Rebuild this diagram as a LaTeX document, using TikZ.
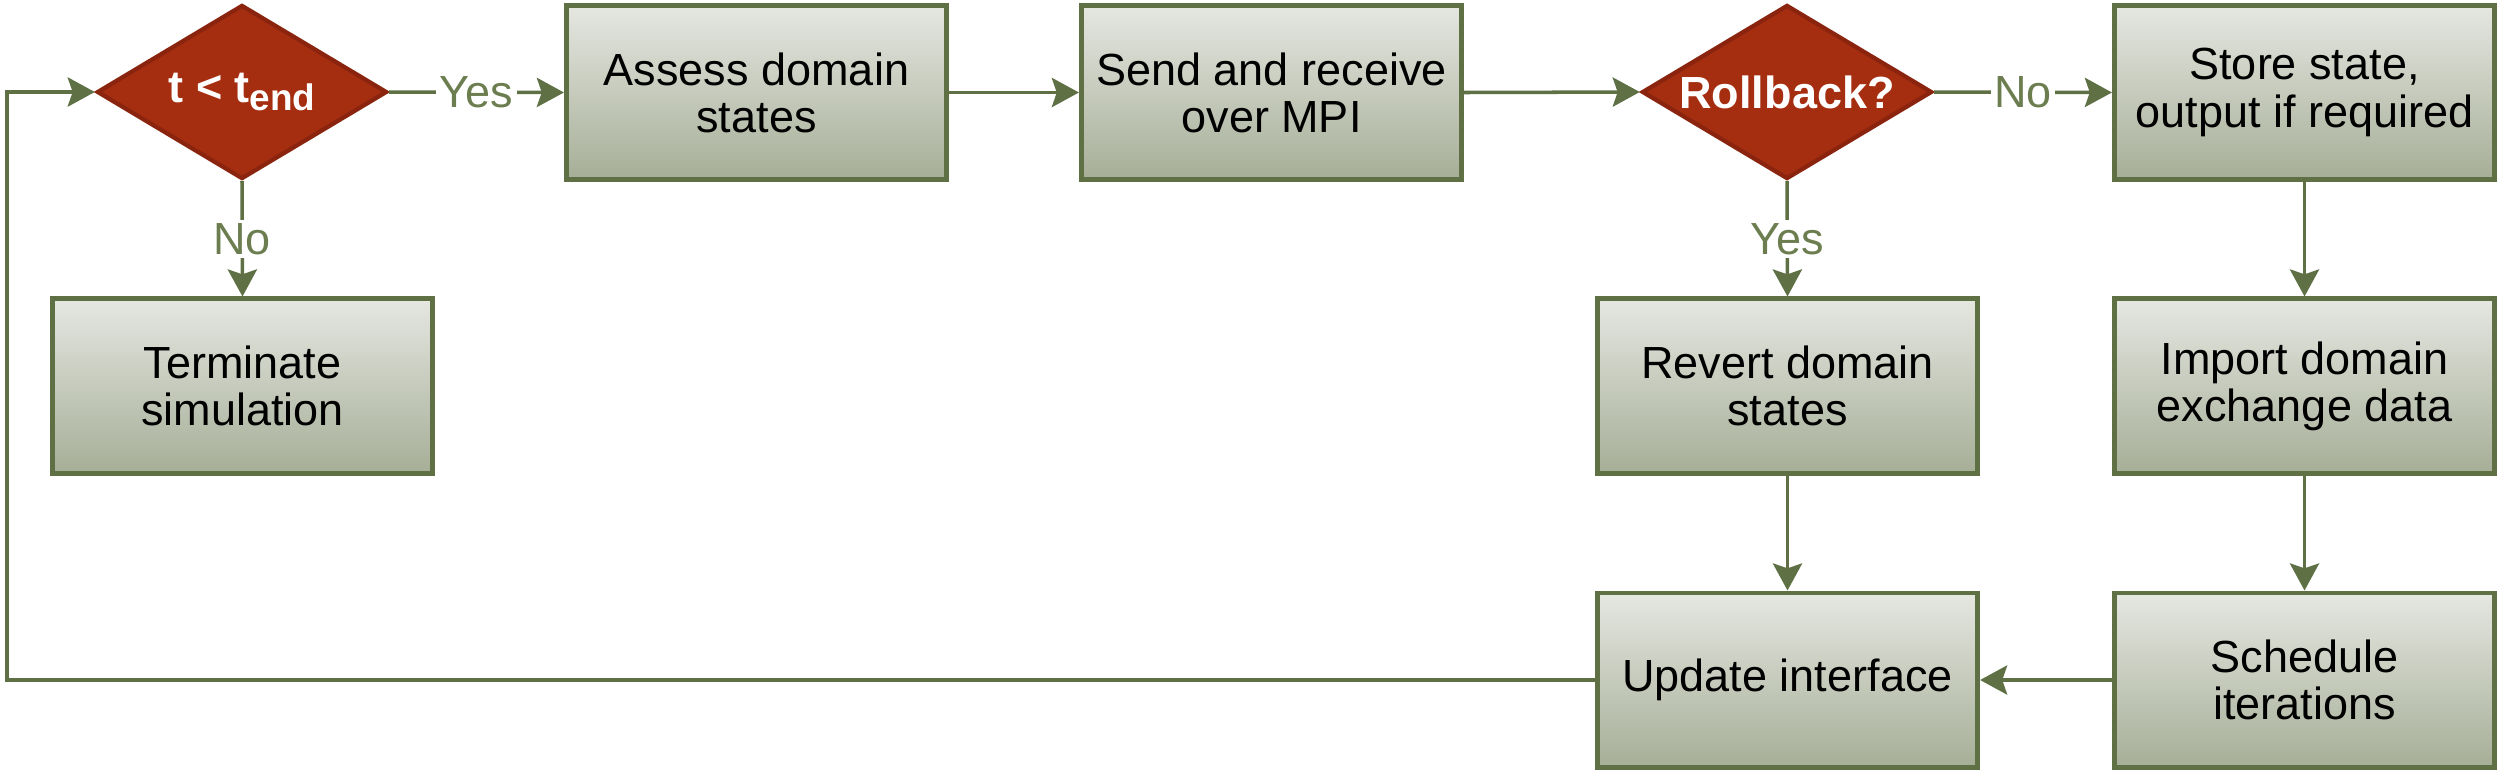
\documentclass[tikz,border=0pt]{standalone}
\usepackage{fontspec}
\setmainfont{Liberation Sans}
\usetikzlibrary{shapes.geometric,arrows.meta}
\definecolor{boxtop}{RGB}{229,231,225}
\definecolor{boxbot}{RGB}{166,174,151}
\definecolor{edgegreen}{RGB}{94,112,68}
\definecolor{labgreen}{RGB}{108,126,80}
\definecolor{decfill}{RGB}{166,46,16}
\definecolor{decedge}{RGB}{138,36,14}
\tikzset{
  stepbox/.style={draw=edgegreen, line width=1.4pt, top color=boxtop, bottom color=boxbot,
    minimum width=3.80cm, minimum height=1.74cm, inner sep=0pt, align=center,
    font=\fontsize{12.8}{13.4}\selectfont, text=black},
  decision/.style={diamond, draw=decedge, line width=1.2pt, fill=decfill,
    minimum width=2.90cm, minimum height=1.74cm, inner sep=0pt},
  dectext/.style={text=white, font=\fontsize{12.8}{15}\selectfont\bfseries, inner sep=0pt},
  conn/.style={draw=edgegreen, line width=1pt,
    -{Stealth[length=7.7pt, width=8.3pt, inset=1.4pt]}},
  lab/.style={fill=white, inner sep=1pt, text=labgreen, font=\fontsize{12.8}{15}\selectfont}
}
\begin{document}
\begin{tikzpicture}[x=0.01cm, y=-0.01cm]
\useasboundingbox (0,0) rectangle (2500,772);
\node[decision, label={[dectext]center:t < t\raisebox{-0.35ex}{\fontsize{10.5}{12}\selectfont end}}] (d1) at (242,92) {};
\node[stepbox] (assess) at (756.5,92.5) {Assess domain\\states};
\node[stepbox] (send) at (1271.5,92.5) {Send and receive\\over MPI};
\node[decision, label={[dectext]center:Rollback?}] (rb) at (1787,92) {};
\node[stepbox] (store) at (2304.5,92.5) {Store state,\\output if required};
\node[stepbox] (term) at (242.5,386) {Terminate\\simulation};
\node[stepbox] (revert) at (1787.5,386) {Revert domain\\states};
\node[stepbox] (import) at (2304.5,386) {Import domain\\exchange data};
\node[stepbox] (update) at (1787.5,680) {Update interface};
\node[stepbox] (sched) at (2304.5,680) {Schedule\\iterations};
\coordinate (loopcorner) at (7,680);
\coordinate (looptop) at (7,92);

\draw[conn] (d1.east) -- node[lab] {Yes} (assess.west);
\draw[conn] (d1.south) -- node[lab] {No} (term.north);
\draw[conn] (assess.east) -- (send.west);
\draw[conn] (send.east) -- (rb.west);
\draw[conn] (rb.east) -- node[lab] {No} (store.west);
\draw[conn] (rb.south) -- node[lab] {Yes} (revert.north);
\draw[conn] (store.south) -- (import.north);
\draw[conn] (import.south) -- (sched.north);
\draw[conn] (revert.south) -- (update.north);
\draw[conn] (sched.west) -- (update.east);
\draw[conn] (update.west) -- (loopcorner) -- (looptop) -- (d1.west);
\end{tikzpicture}
\end{document}
